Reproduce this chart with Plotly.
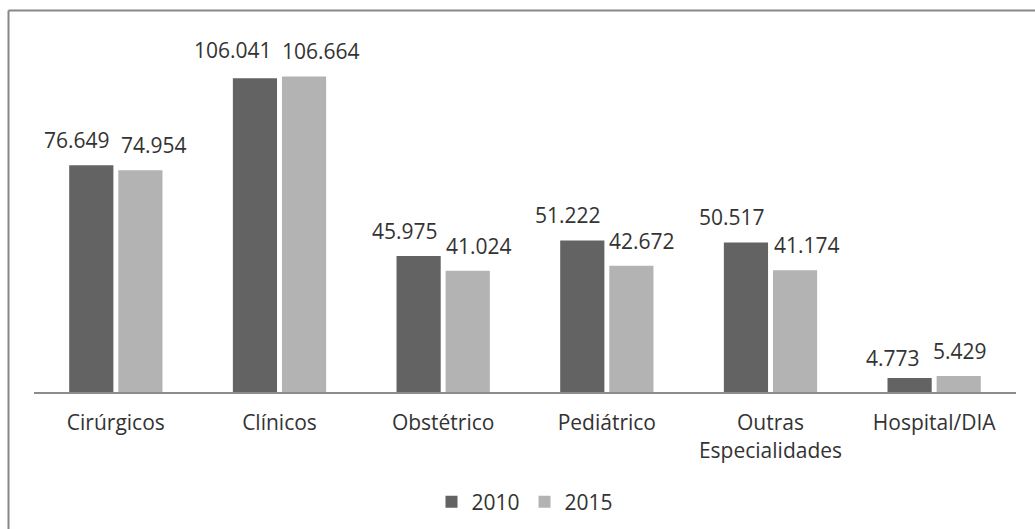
import plotly.graph_objects as go

categories = ["Cirúrgicos", "Clínicos", "Obstétrico", "Pediátrico",
              "Outras<br>Especialidades", "Hospital/DIA"]
values_2010 = [76.649, 106.041, 45.975, 51.222, 50.517, 4.773]
values_2015 = [74.954, 106.664, 41.024, 42.672, 41.174, 5.429]
series_names = ["2010", "2015"]
series_colors = ["#636363", "#b3b3b3"]

# label nudges in pixels (dx, dy) so neighbouring labels stay apart
label_nudge_2010 = [(-14, 9), (-22, 12), (-14, 9), (-14, 9), (-14, 10), (-17, 4)]
label_nudge_2015 = [(14, 9), (17, 9), (11, 9), (11, 9), (12, 9), (1, 9)]

FONT = "Open Sans"
FS = 21
TEXT_COLOR = "#333333"
BARGAP, GROUPGAP = 0.4, 0.1


def fmt(v):
    return f"{v:.3f}"


fig = go.Figure()
for name, vals, color in zip(series_names, [values_2010, values_2015], series_colors):
    fig.add_trace(go.Bar(
        x=categories, y=vals, name=name,
        marker=dict(color=color, line=dict(width=0)),
    ))

# value labels above each bar
slot = (1 - BARGAP) / 2
for k, (vals, nudges) in enumerate([(values_2010, label_nudge_2010),
                                    (values_2015, label_nudge_2015)]):
    centre_offset = (k - 0.5) * slot
    for i, (v, (dx, dy)) in enumerate(zip(vals, nudges)):
        fig.add_annotation(
            x=i + centre_offset, y=v, xref="x", yref="y",
            text=fmt(v), showarrow=False,
            xanchor="center", yanchor="bottom",
            xshift=dx, yshift=dy,
            font=dict(family=FONT, size=FS, color=TEXT_COLOR),
        )

L, R, T, B = 34, 19, 37, 137
W, H = 1035, 529
pw, ph = W - L - R, H - T - B

fig.update_layout(
    width=W, height=H,
    margin=dict(l=L, r=R, t=T, b=B, autoexpand=False),
    paper_bgcolor="white", plot_bgcolor="white",
    barmode="group", bargap=BARGAP, bargroupgap=GROUPGAP,
    font=dict(family=FONT, size=FS, color=TEXT_COLOR),
    showlegend=True,
    legend=dict(orientation="h", x=0.5, xanchor="center", y=-0.31, yanchor="middle",
                font=dict(family=FONT, size=FS, color=TEXT_COLOR),
                itemwidth=30, traceorder="normal"),
    xaxis=dict(showline=True, linecolor="#8c8c8c", linewidth=2, ticks="",
               ticklabelstandoff=11, automargin=False,
               tickfont=dict(family=FONT, size=FS, color=TEXT_COLOR)),
    yaxis=dict(range=[0, 120], visible=False, showgrid=False, automargin=False),
)

# frame lines along the left and top edges
x_left = (8.5 - L) / pw
y_top = (H - 10.5 - B) / ph
fig.add_shape(type="line", xref="paper", yref="paper",
              x0=x_left, x1=x_left, y0=-B / ph - 0.1, y1=y_top,
              line=dict(color="#878787", width=2))
fig.add_shape(type="line", xref="paper", yref="paper",
              x0=x_left, x1=(W - L) / pw + 0.1, y0=y_top, y1=y_top,
              line=dict(color="#878787", width=2))

fig.write_html("out.html")
